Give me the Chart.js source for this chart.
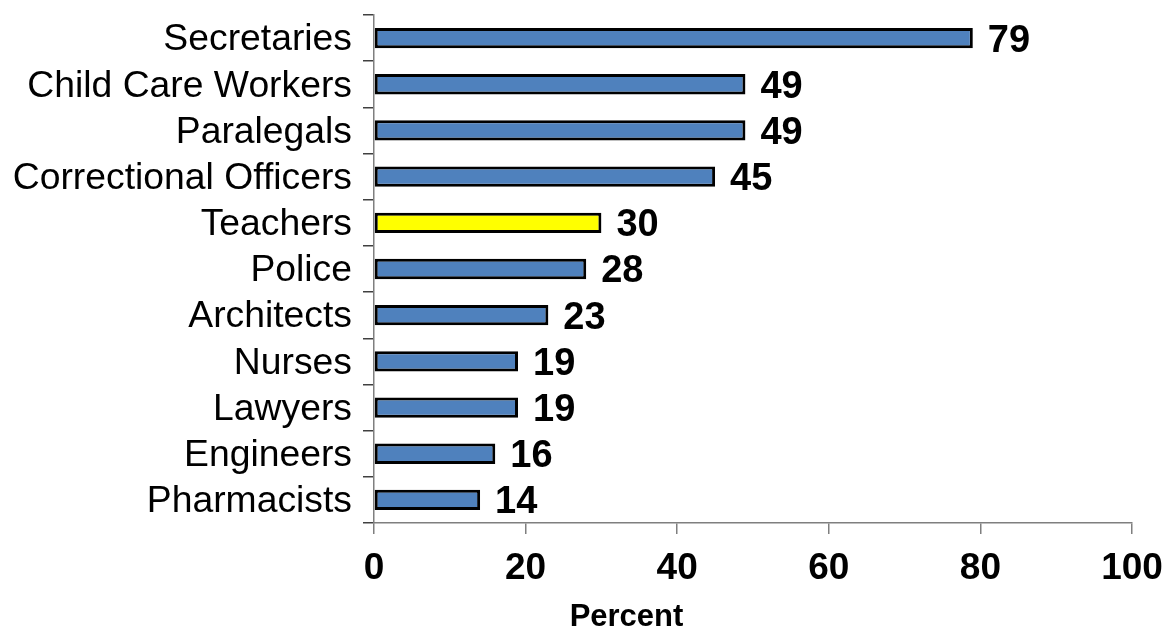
<!DOCTYPE html>
<html>
<head>
<meta charset="utf-8">
<script src="https://cdn.jsdelivr.net/npm/chart.js@4/dist/chart.umd.min.js"></script>
<style>
    body { margin: 0; background: #fff; }
    .wrap { width: 1165px; height: 627px; position: relative; }
</style>
</head>
<body>
<div class="wrap"><canvas id="chart"></canvas></div>
<script>
// Occupations and share (percent)
const occupations = [
    'Secretaries', 'Child Care Workers', 'Paralegals', 'Correctional Officers',
    'Teachers', 'Police', 'Architects', 'Nurses', 'Lawyers', 'Engineers', 'Pharmacists'
];
const percents = [79, 49, 49, 45, 30, 28, 23, 19, 19, 16, 14];
const xTicks = [0, 20, 40, 60, 80, 100];
const highlight = 'Teachers';
const xAxisTitle = 'Percent';

const FONT = 'Liberation Sans, Arial, Helvetica, sans-serif';
const AXIS_GREY = '#7f7f7f';

// value labels to the right of each bar
const barValueLabels = {
    id: 'barValueLabels',
    afterDatasetsDraw(chart) {
        const ctx = chart.ctx;
        const meta = chart.getDatasetMeta(0);
        ctx.save();
        ctx.font = `bold 38px ${FONT}`;
        ctx.fillStyle = '#000';
        ctx.textAlign = 'left';
        ctx.textBaseline = 'middle';
        meta.data.forEach((bar, i) => {
            ctx.fillText(String(percents[i]), bar.x + 15, bar.y + 3);
        });
        ctx.restore();
    }
};

// axis title sits left of the plot centre, under the 20-40 ticks
const xTitle = {
    id: 'xTitle',
    afterDraw(chart) {
        const ctx = chart.ctx;
        ctx.save();
        ctx.font = `bold 31px ${FONT}`;
        ctx.fillStyle = '#000';
        ctx.textAlign = 'center';
        ctx.textBaseline = 'alphabetic';
        ctx.fillText(xAxisTitle, 626.5, 625.5);
        ctx.restore();
    }
};

// keep the plot area where the layout padding puts it
function noScalePadding(scale) {
    scale.paddingLeft = 0;
    scale.paddingRight = 0;
    scale.paddingTop = 0;
    scale.paddingBottom = 0;
}

const ctx = document.getElementById('chart').getContext('2d');
new Chart(ctx, {
    type: 'bar',
    data: {
        labels: occupations,
        datasets: [{
            data: percents,
            backgroundColor: occupations.map(o => o === highlight ? '#FFFF00' : '#4F81BD'),
            borderColor: '#000',
            borderWidth: 3,
            borderSkipped: false,
            barPercentage: 0.44,
            categoryPercentage: 1
        }]
    },
    options: {
        indexAxis: 'y',
        responsive: true,
        maintainAspectRatio: false,
        animation: false,
        layout: { padding: { top: 15, right: 33, bottom: 0, left: 0 } },
        plugins: {
            legend: { display: false },
            tooltip: { enabled: false }
        },
        scales: {
            x: {
                min: 0,
                max: 100,
                afterBuildTicks: (scale) => { scale.ticks = xTicks.map(v => ({ value: v })); },
                afterFit: (scale) => { scale.height = 104; noScalePadding(scale); },
                grid: {
                    drawOnChartArea: false,
                    drawTicks: true,
                    tickLength: 11,
                    color: AXIS_GREY,
                    lineWidth: 1.5
                },
                border: { color: AXIS_GREY, width: 1.5 },
                ticks: {
                    color: '#000',
                    font: { family: FONT, size: 37, weight: 'bold' },
                    padding: 13,
                    maxRotation: 0
                }
            },
            y: {
                afterFit: (scale) => { scale.width = 374; noScalePadding(scale); },
                grid: {
                    offset: true,
                    drawOnChartArea: false,
                    drawTicks: true,
                    tickLength: 11,
                    color: '#404040',
                    lineWidth: 1.5
                },
                border: { color: AXIS_GREY, width: 1.5 },
                ticks: {
                    color: '#000',
                    font: { family: FONT, size: 37.3 },
                    padding: 11,
                    labelOffset: 2,
                    autoSkip: false
                }
            }
        }
    },
    plugins: [barValueLabels, xTitle]
});
</script>
</body>
</html>
